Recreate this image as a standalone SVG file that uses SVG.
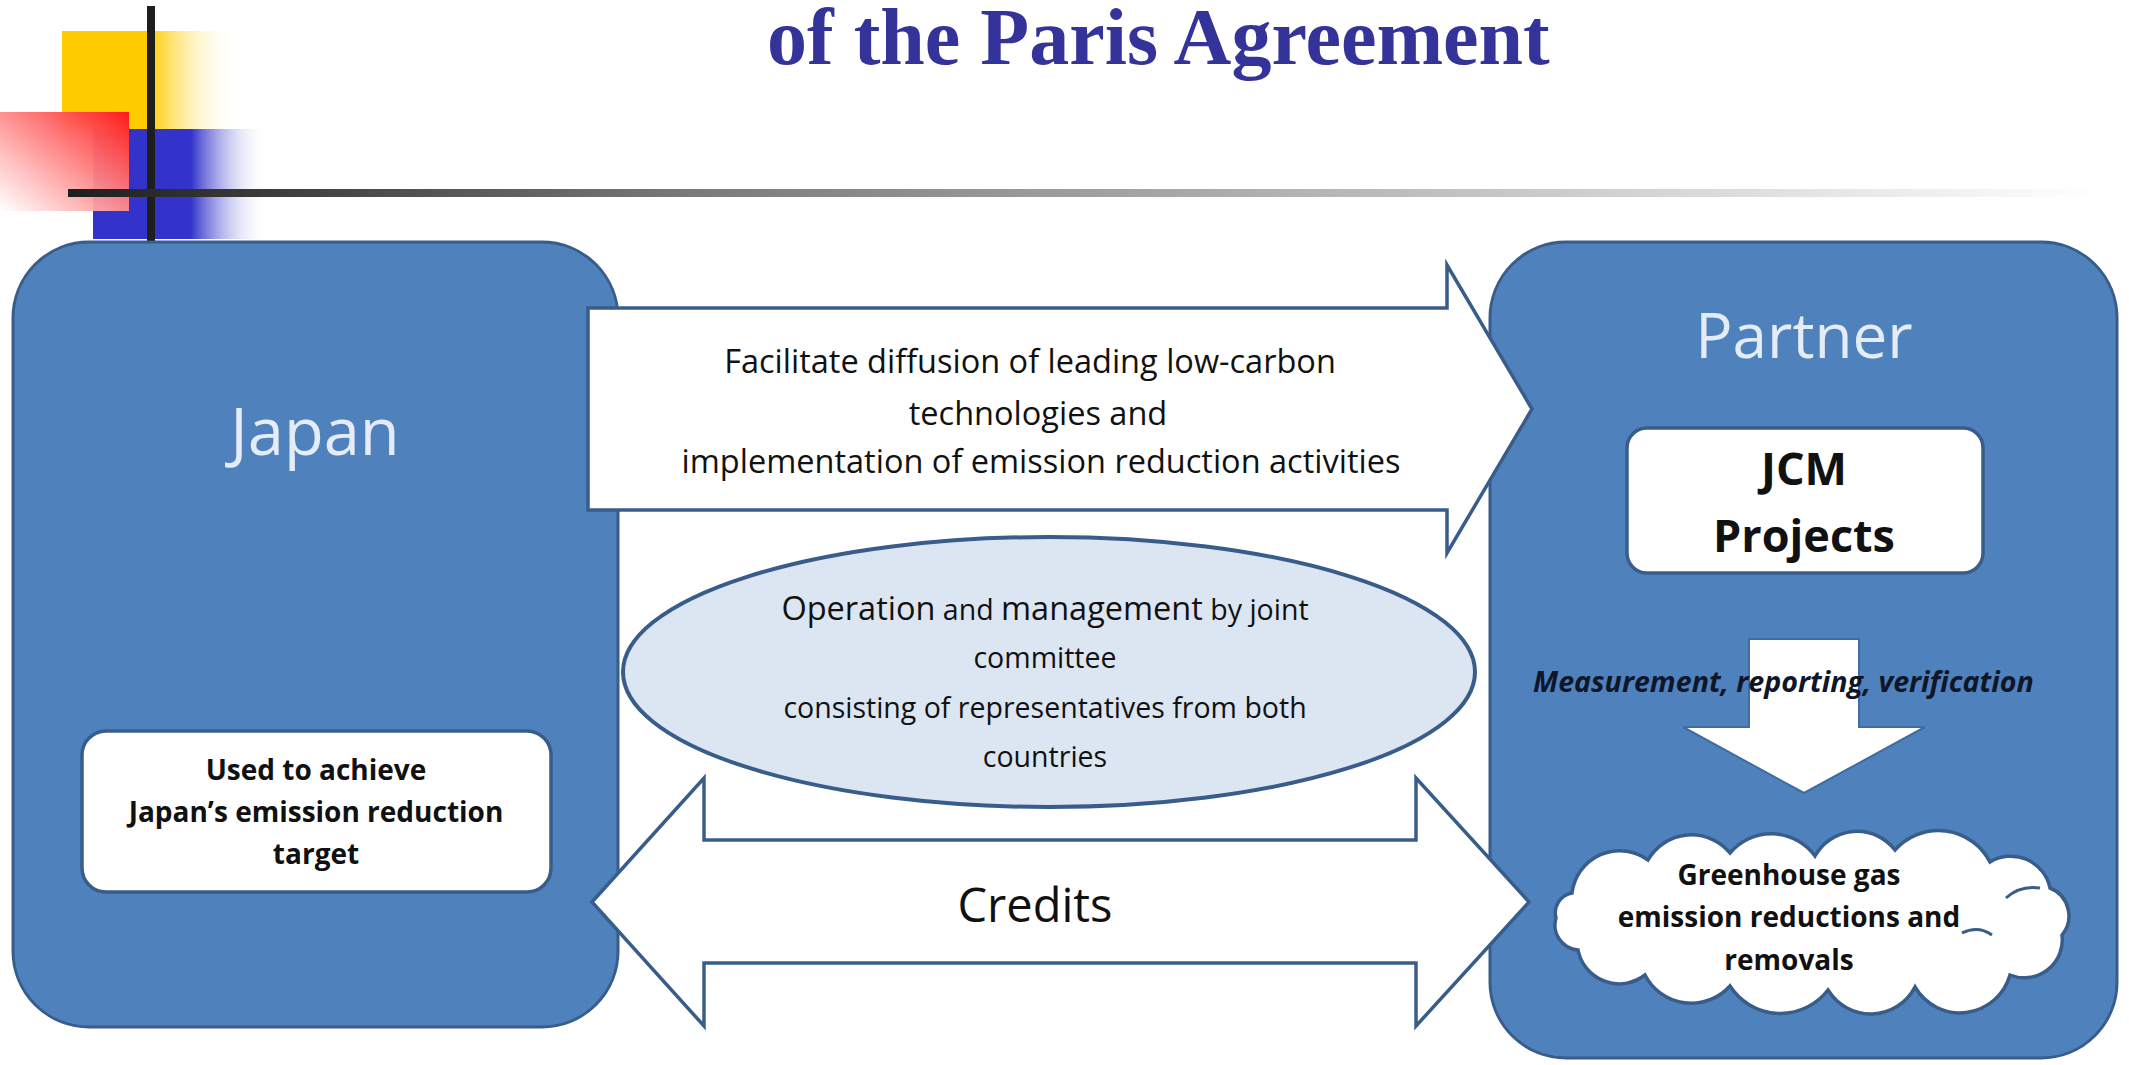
<svg xmlns="http://www.w3.org/2000/svg" width="2129" height="1065" viewBox="0 0 2129 1065">
  <defs>
    <linearGradient id="gYellow" x1="0" y1="0" x2="1" y2="0">
      <stop offset="0" stop-color="#FFCC00"/>
      <stop offset="0.5" stop-color="#FFCC00"/>
      <stop offset="1" stop-color="#FFFFFF" stop-opacity="0"/>
    </linearGradient>
    <linearGradient id="gBlue" x1="0" y1="0" x2="1" y2="0">
      <stop offset="0" stop-color="#3333CC"/>
      <stop offset="0.56" stop-color="#3333CC"/>
      <stop offset="1" stop-color="#FFFFFF" stop-opacity="0"/>
    </linearGradient>
    <linearGradient id="gRed" x1="1" y1="0" x2="0" y2="1">
      <stop offset="0" stop-color="#FF1A1A"/>
      <stop offset="1" stop-color="#FFFFFF" stop-opacity="0.9"/>
    </linearGradient>
    <linearGradient id="gLine" x1="0" y1="0" x2="1" y2="0">
      <stop offset="0" stop-color="#1E1E1E"/>
      <stop offset="0.3" stop-color="#787878"/>
      <stop offset="1" stop-color="#FFFFFF"/>
    </linearGradient>
    <style>
      .box { fill: #4F81BD; stroke: #385D8A; stroke-width: 3; }
      .white { fill: #FFFFFF; stroke: #385D8A; stroke-width: 3.5; }
      .head { font-family: "Open Sans", "Liberation Sans", sans-serif; fill: #E4ECF7; text-anchor: middle; }
      .t { font-family: "Open Sans", "Liberation Sans", sans-serif; fill: #111111; text-anchor: middle; }
      .b { font-weight: bold; }
    </style>
  </defs>

  <rect width="2129" height="1065" fill="#FFFFFF"/>

  <g id="decoration">
    <rect x="62" y="31" width="175" height="98" fill="url(#gYellow)"/>
    <rect x="93" y="129" width="175" height="110" fill="url(#gBlue)"/>
    <rect x="0" y="112" width="129" height="99" fill="url(#gRed)"/>
    <rect x="147" y="6" width="8" height="237" fill="#1E1E1E"/>
    <rect x="68" y="189" width="2030" height="8" fill="url(#gLine)"/>
  </g>

  <g id="title">
    <text x="767" y="64" font-family="'Liberation Serif', 'Times New Roman', serif" font-weight="bold" font-size="80" fill="#333399">of the Paris Agreement</text>
  </g>

  <g id="japan">
    <rect class="box" x="13" y="242" width="605" height="785" rx="76" ry="76"/>
    <text class="head" x="315" y="455" font-size="65">Japan</text>
  </g>

  <g id="partner">
    <rect class="box" x="1490" y="242" width="627" height="816" rx="76" ry="76"/>
    <text class="head" x="1804" y="358" font-size="62">Partner</text>
  </g>

  <g id="jcm-projects">
    <rect class="white" x="1627" y="428" width="356" height="145" rx="20" ry="20"/>
    <text class="t b" x="1804" y="485" font-size="45">JCM</text>
    <text class="t b" x="1804" y="552" font-size="45">Projects</text>
  </g>

  <g id="used-to-achieve">
    <rect class="white" x="82" y="731" width="469" height="161" rx="24" ry="24"/>
    <text class="t b" x="316" y="780" font-size="28">Used to achieve</text>
    <text class="t b" x="316" y="822" font-size="28">Japan’s emission reduction</text>
    <text class="t b" x="316" y="864" font-size="28">target</text>
  </g>

  <g id="joint-committee">
    <ellipse cx="1049" cy="672" rx="426" ry="135" fill="#DCE6F2" stroke="#385D8A" stroke-width="4"/>
    <text class="t" x="1045" y="620"><tspan font-size="32.5">Operation</tspan><tspan font-size="28.5"> and </tspan><tspan font-size="32.5">management</tspan><tspan font-size="28.5"> by joint</tspan></text>
    <text class="t" x="1045" y="668" font-size="28.5">committee</text>
    <text class="t" x="1045" y="718" font-size="28.5">consisting of representatives from both</text>
    <text class="t" x="1045" y="767" font-size="28.5">countries</text>
  </g>

  <g id="ghg-cloud">
    <path class="white" d="M 1572 893 A 48 48 0 0 1 1648 860 A 50 50 0 0 1 1730 853 A 54 54 0 0 1 1815 856 A 48 48 0 0 1 1895 850 A 58 58 0 0 1 1990 862 A 40 40 0 0 1 2050 888 A 30 30 0 0 1 2062 935 A 38 38 0 0 1 2010 975 A 52 52 0 0 1 1915 987 A 50 50 0 0 1 1828 990 A 60 60 0 0 1 1730 986 A 52 52 0 0 1 1645 975 A 42 42 0 0 1 1578 950 A 25 25 0 0 1 1556 918 A 20 20 0 0 1 1572 893 Z"/>
    <path d="M 1962 933 Q 1978 925 1992 935" fill="none" stroke="#385D8A" stroke-width="3"/>
    <path d="M 2006 898 Q 2020 885 2040 888" fill="none" stroke="#385D8A" stroke-width="3"/>
    <text class="t b" x="1789" y="885" font-size="28">Greenhouse gas</text>
    <text class="t b" x="1789" y="927" font-size="28">emission reductions and</text>
    <text class="t b" x="1789" y="970" font-size="28">removals</text>
  </g>

  <g id="connectors">
    <g id="arrow-technology">
      <polygon class="white" points="588,308 1447,308 1447,265 1532,409 1447,553 1447,510 588,510"/>
      <text class="t" x="1030" y="373" font-size="32.5">Facilitate diffusion of leading low-carbon</text>
      <text class="t" x="1038" y="425" font-size="32.5">technologies and</text>
      <text class="t" x="1041" y="473" font-size="32.5">implementation of emission reduction activities</text>
    </g>
    <g id="arrow-credits">
      <polygon class="white" points="592,902 704,778 704,840 1416,840 1416,778 1529,902 1416,1026 1416,963 704,963 704,1026"/>
      <text class="t" x="1035" y="922" font-size="47">Credits</text>
    </g>
    <g id="arrow-mrv">
      <polygon points="1749,639 1859,639 1859,727 1925,727 1804,793 1683,727 1749,727" fill="#FFFFFF" stroke="#3E6CA3" stroke-width="2"/>
      <text x="1533" y="692" font-family="'Open Sans', 'Liberation Sans', sans-serif" font-weight="bold" font-style="italic" font-size="28.6" fill="#0E1628">Measurement, reporting, verification</text>
    </g>
  </g>
</svg>
